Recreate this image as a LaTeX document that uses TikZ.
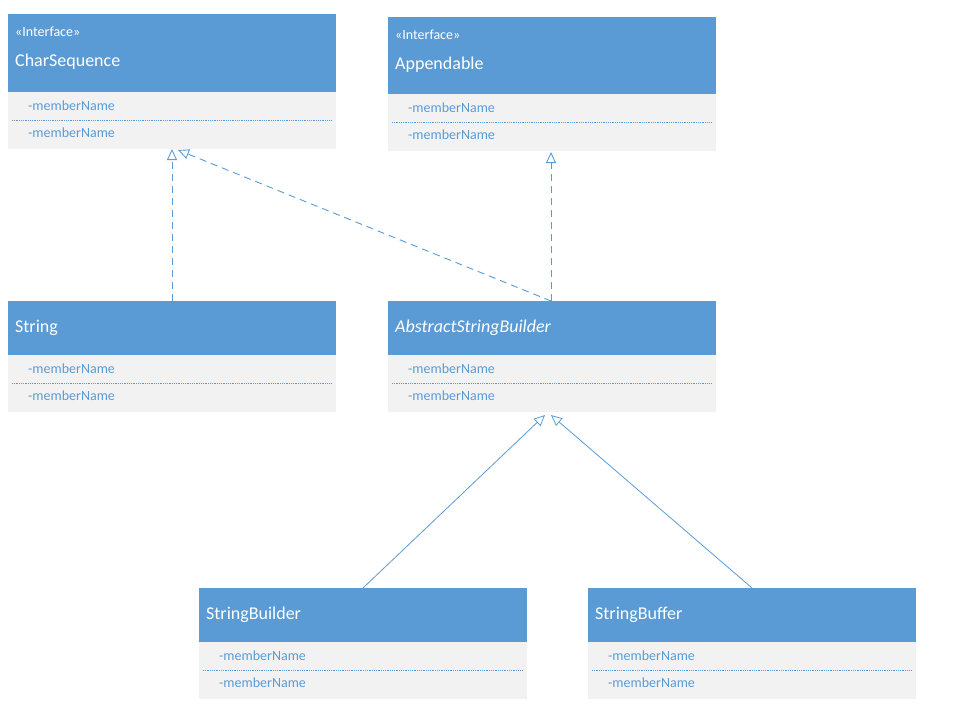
\documentclass[tikz,border=0pt]{standalone}
\usepackage{fontspec}
\setmainfont{Carlito}
\usetikzlibrary{arrows.meta}
\definecolor{hdr}{HTML}{5B9BD5}
\definecolor{bdy}{HTML}{F2F2F2}
\tikzset{
  x=1pt,y=-1pt,
  hbox/.style={fill=hdr,draw=none,anchor=north west,minimum width=328pt,inner sep=0pt,text=white},
  bbox/.style={fill=bdy,draw=none,anchor=north west,minimum width=328pt,minimum height=57pt,inner sep=0pt},
  mem/.style={anchor=west,text=hdr,font=\fontsize{14}{16}\selectfont,inner sep=0pt},
  ttl/.style={anchor=west,text=white,font=\fontsize{18}{20}\selectfont,inner sep=0pt},
  ster/.style={anchor=west,text=white,font=\fontsize{14}{16}\selectfont,inner sep=0pt},
  sep/.style={hdr,densely dotted,line width=0.8pt},
  real/.style={hdr,dashed,dash pattern=on 7pt off 5pt,line width=0.9pt,-{Triangle[open,length=11pt,width=10pt]}},
  inh/.style={hdr,line width=0.8pt,-{Triangle[open,length=11pt,width=10pt]}}
}
\newcommand{\umlclass}[6]{% name, x, y, header height, title, stereotype
  \node[hbox,minimum height=#4pt] (#1) at (#2,#3) {};
  \node[bbox] (#1b) at (#2,#3+#4) {};
  \ifx&#6&\node[ttl] (#1t) at (#2+7,#3+#4/2) {#5};
  \else
  \node[ster] (#1s) at (#2+7,#3+18) {#6};
  \node[ttl] (#1t) at (#2+7,#3+48) {#5};
  \fi
  \node[mem] (#1m1) at (#2+20,#3+#4+14) {-memberName};
  \node[mem] (#1m2) at (#2+20,#3+#4+41) {-memberName};
  \draw[sep] (#2+4,#3+#4+28) -- (#2+324,#3+#4+28);
}
\begin{document}
\begin{tikzpicture}
\useasboundingbox[fill=white] (0,0) rectangle (964,718);
\umlclass{cs}{8}{14}{78}{CharSequence}{<<Interface>>}
\umlclass{ap}{388}{17}{77}{Appendable}{<<Interface>>}
\umlclass{st}{8}{301}{54}{String}{}
\umlclass{asb}{388}{301}{54}{\textit{AbstractStringBuilder}}{}
\umlclass{sbd}{199}{588}{54}{StringBuilder}{}
\umlclass{sbf}{588}{588}{54}{StringBuffer}{}
\coordinate (csA) at (172,149);
\coordinate (csB) at (178,150);
\coordinate (apA) at (551,152);
\coordinate (asbA) at (545,415);
\coordinate (asbB) at (551,415);
\draw[real] (st.north -| csA) -- (csA);
\draw[real] (asb.north -| apA) -- (csB);
\draw[real] (asb.north -| apA) -- (apA);
\draw[inh] (sbd.north -| 363,0) -- (asbA);
\draw[inh] (sbf.north -| 752,0) -- (asbB);
\end{tikzpicture}
\end{document}
